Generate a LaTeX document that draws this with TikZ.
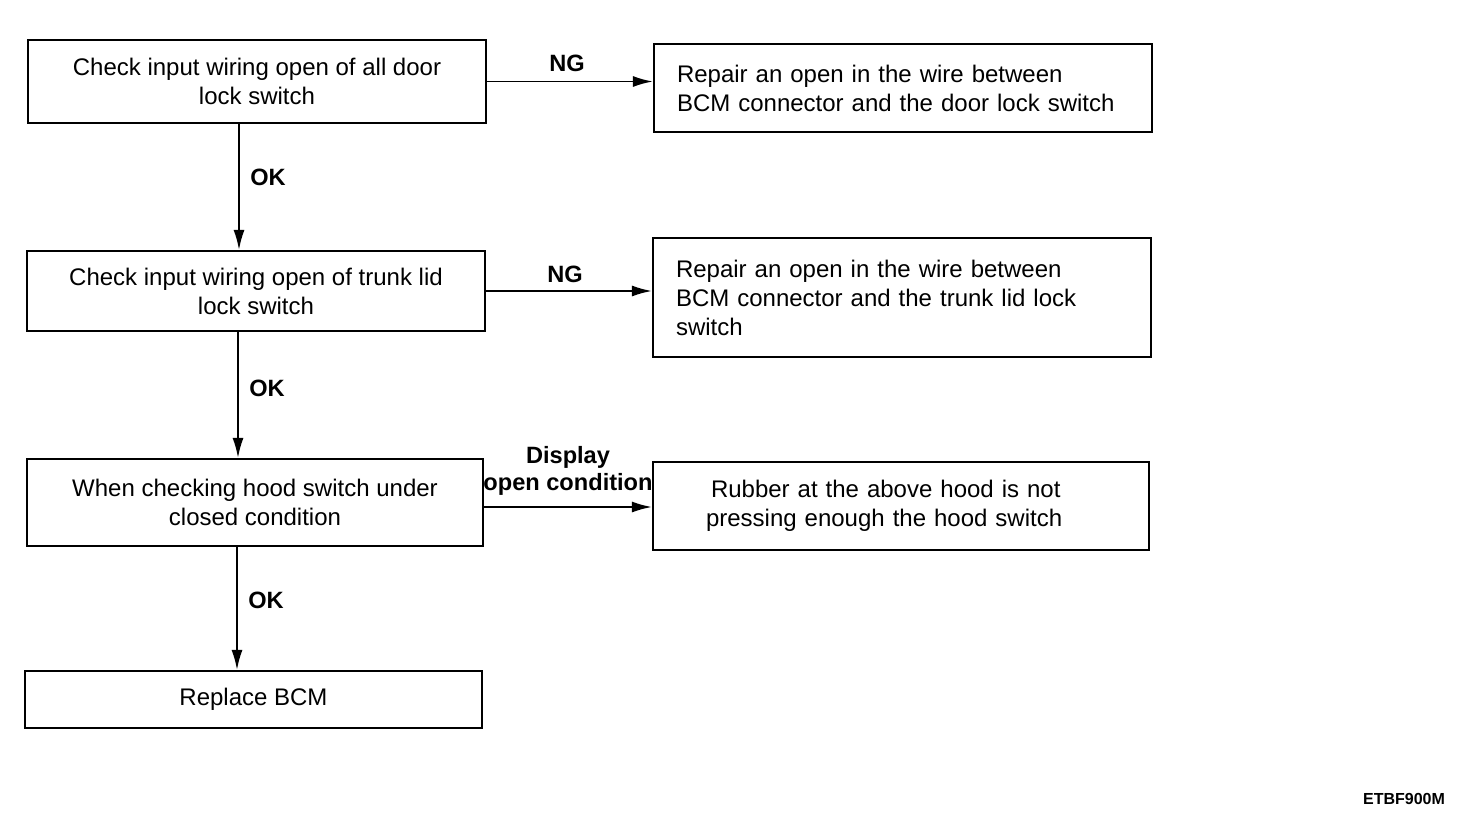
\documentclass[tikz,border=0pt]{standalone}
\usepackage{fontspec}
\setmainfont{Liberation Sans}
\usetikzlibrary{arrows.meta}
\begin{document}
\begin{tikzpicture}[x=0.5pt,y=-0.5pt,
  box/.style={draw,line width=1.1pt,inner sep=0pt,font=\fontsize{12}{14.5}\selectfont},
  lbox/.style={box,align=center},
  rbox/.style={box,align=left,text width=226pt},
  arr/.style={line width=0.9pt,-{Latex[length=10pt,width=5.5pt]}},
  lab/.style={font=\fontsize{11.8}{13.5}\selectfont\bfseries,align=center,inner sep=0pt}]
\useasboundingbox (0,0) rectangle (1472,824);
\node[lbox,minimum width=229pt,minimum height=41.5pt] (b1) at (257,81.5) {Check input wiring open of all door\\lock switch};
\node[rbox,minimum width=249pt,minimum height=44pt] (r1) at (903,88) {Repair an open in the wire between\\BCM connector and the door lock switch};
\node[lbox,minimum width=229pt,minimum height=40pt] (b2) at (256,291) {Check input wiring open of trunk lid\\lock switch};
\node[rbox,minimum width=249pt,minimum height=59.5pt] (r2) at (902,297.5) {Repair an open in the wire between\\BCM connector and the trunk lid lock\\switch};
\node[lbox,minimum width=228pt,minimum height=43.5pt] (b3) at (255,502.5) {When checking hood switch under\\closed condition};
\node[rbox,minimum width=248pt,minimum height=44pt] (r3) at (901,506) {\hspace*{18pt}Rubber at the above hood is not\\\hspace*{15.5pt}pressing enough the hood switch};
\node[lbox,minimum width=228.5pt,minimum height=28.5pt] (b4) at (253.5,699.5) {Replace BCM};

\coordinate (x1) at (239,0);
\coordinate (x2) at (238,0);
\coordinate (x3) at (237,0);
\coordinate (y3) at (0,507);

\draw[arr] (b1.south -| x1) -- (b2.north -| x1);
\draw[arr] (b2.south -| x2) -- (b3.north -| x2);
\draw[arr] (b3.south -| x3) -- (b4.north -| x3);
\draw[arr] (b1.east) -- (b1.east -| r1.west);
\draw[arr] (b2.east) -- (b2.east -| r2.west);
\draw[arr] (b3.east |- y3) -- (r3.west |- y3);

\node[lab] (ok1) at (268,177) {OK};
\node[lab] (ok2) at (267,388) {OK};
\node[lab] (ok3) at (266,600) {OK};
\node[lab] (ng1) at (567,63) {NG};
\node[lab] (ng2) at (565,274) {NG};
\node[lab] (dp) at (568,471) {Display\\open condition};
\node[lab,font=\fontsize{8}{9}\selectfont\bfseries] (id) at (1404,799) {ETBF900M};
\end{tikzpicture}
\end{document}
